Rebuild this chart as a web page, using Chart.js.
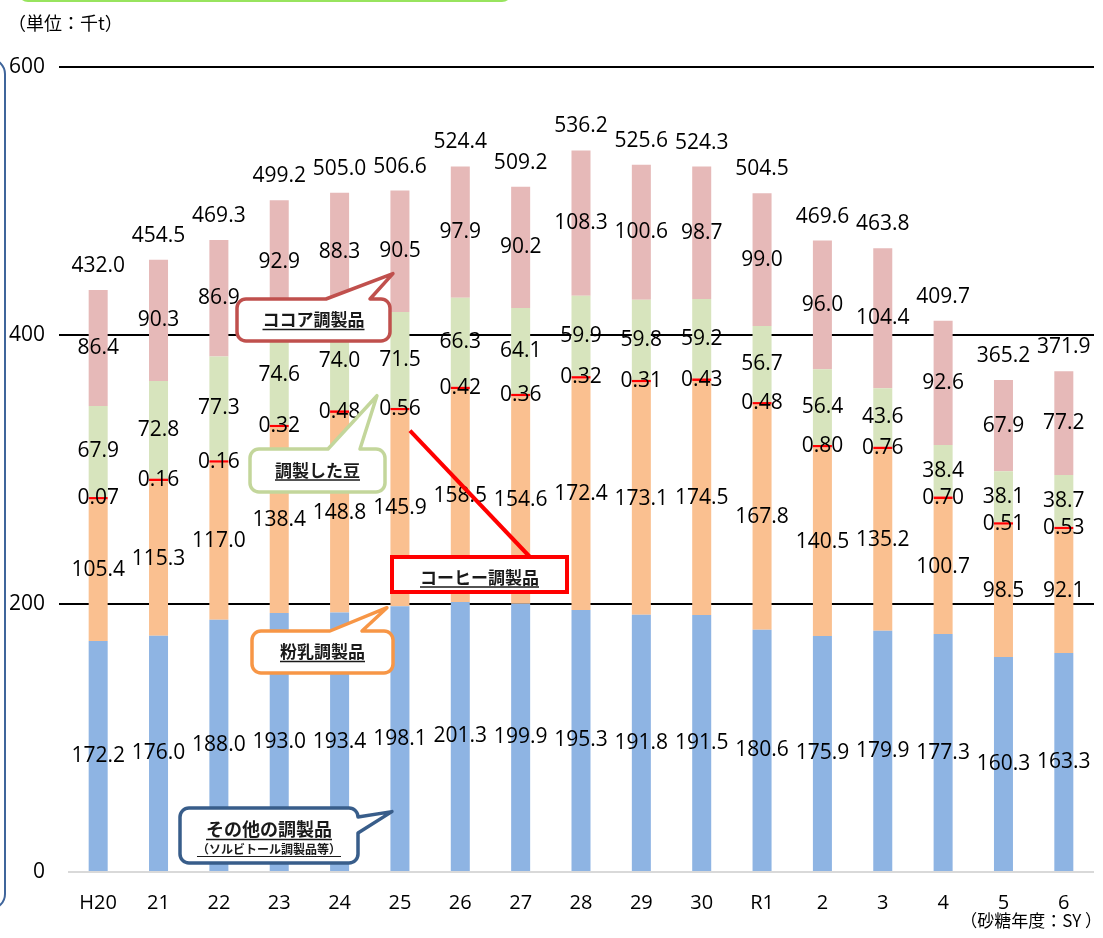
<!DOCTYPE html>
<html lang="ja">
<head>
<meta charset="utf-8">
<title>調製品の輸入量の推移</title>
<script src="https://cdn.jsdelivr.net/npm/chart.js@4.4.1/dist/chart.umd.min.js"></script>
<style>
  html, body { margin: 0; padding: 0; background: #fff; }
  #wrap { position: relative; width: 1103px; height: 938px; overflow: hidden; }
  #chart { position: absolute; left: 0; top: 0; }
  .frame-top { position: absolute; left: 18px; top: -30px; width: 490px; height: 28px; border: 2px solid #98e45e; border-radius: 10px; }
  .frame-left { position: absolute; left: -40px; top: 58px; width: 42px; height: 848px; border: 2.5px solid #3f659b; border-radius: 16px; }
  .unit, .note { position: absolute; font-family: "Noto Sans CJK JP", sans-serif; color: #000; white-space: nowrap; line-height: 1; }
  .unit { left: 8px; top: 13px; font-size: 18px; }
  .note { right: 1px; top: 911px; font-size: 17px; }
</style>
</head>
<body>
<div id="wrap">
  <div class="frame-top"></div>
  <div class="frame-left"></div>
  <canvas id="chart" width="1103" height="938"></canvas>
  <div class="unit">（単位：千t）</div>
  <div class="note">（砂糖年度：SY ）</div>
</div>
<script>
// 砂糖年度
const categories = ['H20', '21', '22', '23', '24', '25', '26', '27', '28', '29', '30', 'R1', '2', '3', '4', '5', '6'];

// 品目別の輸入量（千t）
const otherPrep  = [172.2, 176.0, 188.0, 193.0, 193.4, 198.1, 201.3, 199.9, 195.3, 191.8, 191.5, 180.6, 175.9, 179.9, 177.3, 160.3, 163.3];
const milkPrep   = [105.4, 115.3, 117.0, 138.4, 148.8, 145.9, 158.5, 154.6, 172.4, 173.1, 174.5, 167.8, 140.5, 135.2, 100.7, 98.5, 92.1];
const coffeePrep = [0.07, 0.16, 0.16, 0.32, 0.48, 0.56, 0.42, 0.36, 0.32, 0.31, 0.43, 0.48, 0.80, 0.76, 0.70, 0.51, 0.53];
const beanPrep   = [67.9, 72.8, 77.3, 74.6, 74.0, 71.5, 66.3, 64.1, 59.9, 59.8, 59.2, 56.7, 56.4, 43.6, 38.4, 38.1, 38.7];
const cocoaPrep  = [86.4, 90.3, 86.9, 92.9, 88.3, 90.5, 97.9, 90.2, 108.3, 100.6, 98.7, 99.0, 96.0, 104.4, 92.6, 67.9, 77.2];
const totals     = [432.0, 454.5, 469.3, 499.2, 505.0, 506.6, 524.4, 509.2, 536.2, 525.6, 524.3, 504.5, 469.6, 463.8, 409.7, 365.2, 371.9];

const yTicks = [0, 200, 400, 600];

const NUM_FONT = '"Open Sans", sans-serif';
const JP_FONT = '"Noto Sans CJK JP", sans-serif';

// 吹き出しの位置（tip は 25年度の棒を基準に値で指定）
const callouts = [
  { lines: [{ text: 'ココア調製品', size: 17, dy: 0 }], box: [237, 299, 153, 42], r: 9, color: '#c0504d', lw: 3.5,
    tail: { edge: 'top', from: 326, to: 370 }, tip: { cat: 5, value: 446, dx: -7 } },
  { lines: [{ text: '調製した豆', size: 17, dy: 0 }], box: [250, 449, 135, 43], r: 9, color: '#c3d69b', lw: 3.5,
    tail: { edge: 'top', from: 328, to: 360 }, tip: { cat: 5, value: 355, dx: -23 } },
  { lines: [{ text: '粉乳調製品', size: 17, dy: 0 }], box: [252, 631, 141, 42], r: 9, color: '#f79646', lw: 3.5,
    tail: { edge: 'top', from: 330, to: 362 }, tip: { cat: 5, value: 197, dx: -13 } },
  { lines: [{ text: 'その他の調製品', size: 18, dy: -6 }, { text: '（ソルビトール調製品等）', size: 12, dy: 14 }],
    box: [180, 808, 178, 55], r: 9, color: '#385d8a', lw: 3.5,
    tail: { edge: 'right', from: 817, to: 833 }, tip: { cat: 5, value: 45, dx: -8 } },
  { lines: [{ text: 'コーヒー調製品', size: 17, dy: 3 }], box: [392, 557, 175, 35], r: 0, color: '#ff0000', lw: 4,
    pointer: { from: { cat: 5, value: 329, dx: 10 }, to: [530, 557] } }
];

function bubblePath(ctx, x, y, w, h, r, tail) {
  ctx.beginPath();
  ctx.moveTo(x + r, y);
  if (tail && tail.edge === 'top') {
    ctx.lineTo(tail.from, y);
    ctx.lineTo(tail.tipX, tail.tipY);
    ctx.lineTo(tail.to, y);
  }
  ctx.lineTo(x + w - r, y);
  ctx.arcTo(x + w, y, x + w, y + r, r);
  if (tail && tail.edge === 'right') {
    ctx.lineTo(x + w, tail.from);
    ctx.lineTo(tail.tipX, tail.tipY);
    ctx.lineTo(x + w, tail.to);
  }
  ctx.lineTo(x + w, y + h - r);
  ctx.arcTo(x + w, y + h, x + w - r, y + h, r);
  ctx.lineTo(x + r, y + h);
  ctx.arcTo(x, y + h, x, y + h - r, r);
  ctx.lineTo(x, y + r);
  ctx.arcTo(x, y, x + r, y, r);
  ctx.closePath();
}

// 各区分の数値と合計値
const valueLabels = {
  id: 'valueLabels',
  afterDraw(chart) {
    const ctx = chart.ctx;
    ctx.save();
    ctx.font = '21px ' + NUM_FONT;
    ctx.fillStyle = '#000';
    ctx.textAlign = 'center';
    ctx.textBaseline = 'middle';
    chart.data.datasets.forEach((ds, i) => {
      chart.getDatasetMeta(i).data.forEach((bar, j) => {
        ctx.fillText(ds.data[j].toFixed(ds.decimals), bar.x, (bar.y + bar.base) / 2);
      });
    });
    const topMeta = chart.getDatasetMeta(chart.data.datasets.length - 1);
    topMeta.data.forEach((bar, j) => {
      ctx.fillText(totals[j].toFixed(1), bar.x, bar.y - 24);
    });
    ctx.restore();
  }
};

// 凡例代わりの吹き出し
const calloutPlugin = {
  id: 'callouts',
  afterDraw(chart) {
    const ctx = chart.ctx;
    const xs = chart.scales.x, ys = chart.scales.y;
    const at = p => [xs.getPixelForValue(p.cat) + p.dx, ys.getPixelForValue(p.value)];
    ctx.save();
    callouts.forEach(c => {
      const [x, y, w, h] = c.box;
      if (c.pointer) {
        const [fx, fy] = at(c.pointer.from);
        ctx.beginPath();
        ctx.moveTo(fx, fy);
        ctx.lineTo(c.pointer.to[0], c.pointer.to[1]);
        ctx.strokeStyle = c.color;
        ctx.lineWidth = c.lw;
        ctx.stroke();
      }
      let tail = null;
      if (c.tail) {
        const [tx, ty] = at(c.tip);
        tail = Object.assign({ tipX: tx, tipY: ty }, c.tail);
      }
      bubblePath(ctx, x, y, w, h, c.r, tail);
      ctx.fillStyle = '#fff';
      ctx.fill();
      ctx.lineJoin = c.r ? 'round' : 'miter';
      ctx.strokeStyle = c.color;
      ctx.lineWidth = c.lw;
      ctx.stroke();

      const cx = x + w / 2, cy = y + h / 2;
      c.lines.forEach(l => {
        ctx.font = 'bold ' + l.size + 'px ' + JP_FONT;
        ctx.fillStyle = '#1a1a1a';
        ctx.textAlign = 'center';
        ctx.textBaseline = 'middle';
        ctx.fillText(l.text, cx, cy + l.dy);
        const tw = ctx.measureText(l.text).width;
        const uy = cy + l.dy + l.size * 0.5 + 1;
        ctx.beginPath();
        ctx.moveTo(cx - tw / 2, uy);
        ctx.lineTo(cx + tw / 2, uy);
        ctx.strokeStyle = '#1a1a1a';
        ctx.lineWidth = l.size > 12 ? 1.3 : 1;
        ctx.stroke();
      });
    });
    ctx.restore();
  }
};

new Chart(document.getElementById('chart'), {
  type: 'bar',
  data: {
    labels: categories,
    datasets: [
      { label: 'その他の調製品', data: otherPrep, backgroundColor: '#8eb4e3', decimals: 1 },
      { label: '粉乳調製品', data: milkPrep, backgroundColor: '#fac090', decimals: 1 },
      { label: 'コーヒー調製品', data: coffeePrep, backgroundColor: '#ff0000', minBarLength: 2.5, decimals: 2 },
      { label: '調製した豆', data: beanPrep, backgroundColor: '#d7e4bd', decimals: 1 },
      { label: 'ココア調製品', data: cocoaPrep, backgroundColor: '#e6b9b8', decimals: 1 }
    ]
  },
  options: {
    responsive: false,
    devicePixelRatio: 1,
    animation: false,
    layout: { padding: { top: 67, right: 9, bottom: 0, left: 0 } },
    datasets: { bar: { categoryPercentage: 1, barPercentage: 0.315, borderWidth: 0 } },
    plugins: { legend: { display: false }, tooltip: { enabled: false } },
    scales: {
      x: {
        stacked: true,
        grid: { display: false, drawTicks: false },
        border: { display: false },
        ticks: { color: '#000', font: { family: NUM_FONT, size: 20 }, padding: 19, maxRotation: 0, autoSkip: false },
        afterFit(scale) { scale.height = 66; }
      },
      y: {
        stacked: true,
        min: 0,
        max: 600,
        z: 1,
        afterBuildTicks(scale) { scale.ticks = yTicks.map(v => ({ value: v })); },
        afterFit(scale) { scale.width = 68; },
        border: { display: false },
        grid: {
          color: c => c.tick.value === 0 ? '#d9d9d9' : '#000',
          tickColor: c => c.tick.value === 0 ? 'rgba(0,0,0,0)' : '#000',
          lineWidth: 2,
          drawTicks: true,
          tickLength: 9
        },
        ticks: { color: '#000', font: { family: NUM_FONT, size: 21 }, padding: 14 }
      }
    }
  },
  plugins: [valueLabels, calloutPlugin]
});
</script>
</body>
</html>
